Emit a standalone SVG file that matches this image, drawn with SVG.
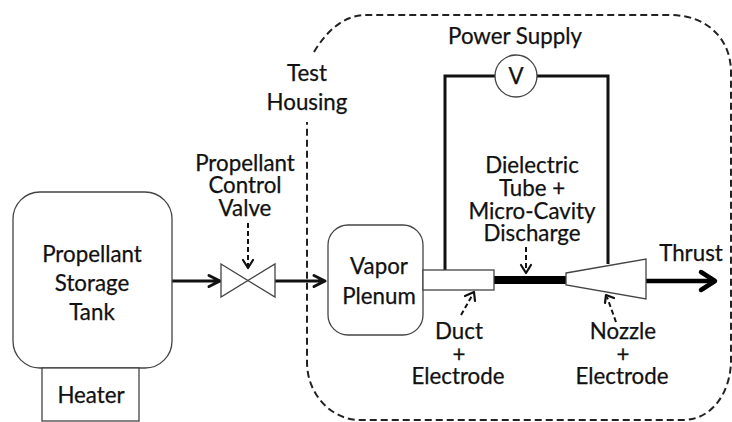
<svg xmlns="http://www.w3.org/2000/svg" width="732" height="422" viewBox="0 0 732 422">
<style>
text{font-family:"Lato","Carlito","Open Sans",sans-serif;font-size:22.300px;fill:#111;stroke:#111;stroke-width:.25;text-anchor:middle}
.box{fill:#fff;stroke:#444;stroke-width:1.300}
.wire{fill:none;stroke:#111;stroke-width:3}
.flow{fill:none;stroke:#111;stroke-width:3;stroke-linecap:round;stroke-linejoin:round}
.hint{fill:none;stroke:#111;stroke-width:2;stroke-dasharray:5 3}
.head{fill:none;stroke:#111;stroke-width:2.200;stroke-linecap:round;stroke-linejoin:round}
</style>
<g id="housing"><path d="M314 52C327 30 345 15 366 15H670C708 15 731 40 731 72V360C731 392 712 420 683 420H360C332 420 307 395 307 362V122" fill="none" stroke="#222" stroke-width="2" stroke-dasharray="7 4"/></g>
<g id="connectors">
<path class="wire" d="M445 270V76H608V264"/>
<path class="flow" d="M172 281H219M209 275.500L220 281L209 286.500"/>
<path class="flow" d="M275 281H324M314 275.500L325 281L314 286.500"/>
<path d="M494 280H566" stroke="#000" stroke-width="8" fill="none"/>
<path d="M646 281H714" stroke="#000" stroke-width="4.500" fill="none"/>
<path d="M701 272L715 281L701 290" stroke="#000" stroke-width="4.500" fill="none" stroke-linecap="round" stroke-linejoin="round"/>
<path class="hint" d="M248 223V266"/><path class="head" d="M243 260L248 268L253 260"/>
<path class="hint" d="M526 247V271"/><path class="head" d="M521 265L526 273L531 265"/>
<path class="hint" d="M461 315L473 294"/><path class="head" d="M465 296L474 292L475 301"/>
<path class="hint" d="M616 322L607 297"/><path class="head" d="M605 303L606 295L614 298"/>
</g>
<g id="tank"><rect class="box" x="13" y="192" width="159" height="176" rx="27"/><text x="92" y="262">Propellant</text><text x="92" y="291">Storage</text><text x="92" y="320">Tank</text></g>
<g id="heater"><rect class="box" x="42" y="368" width="97" height="53"/><text x="91" y="403">Heater</text></g>
<g id="valve"><path class="box" d="M221 264L275 297V264L221 297Z"/><text x="245" y="171">Propellant</text><text x="245" y="193">Control</text><text x="245" y="216">Valve</text></g>
<g id="plenum"><rect class="box" x="328" y="225" width="95" height="110" rx="20"/><text x="379" y="274">Vapor</text><text x="379" y="304">Plenum</text></g>
<g id="duct"><rect class="box" x="423" y="270" width="71" height="20"/><text x="459" y="339">Duct</text><text x="459" y="362">+</text><text x="458" y="384">Electrode</text></g>
<g id="nozzle"><path class="box" d="M566 273L646 259V299L566 285Z"/><text x="623" y="339">Nozzle</text><text x="623" y="362">+</text><text x="622" y="384">Electrode</text></g>
<g id="supply"><circle class="box" cx="516" cy="76" r="21"/><text x="516" y="84">V</text><text x="515" y="44">Power Supply</text></g>
<g id="labels"><text x="307" y="81">Test</text><text x="307" y="110">Housing</text><text x="532" y="173">Dielectric</text><text x="532" y="196">Tube +</text><text x="532" y="219">Micro-Cavity</text><text x="532" y="241">Discharge</text><text x="691" y="261">Thrust</text></g>
</svg>
